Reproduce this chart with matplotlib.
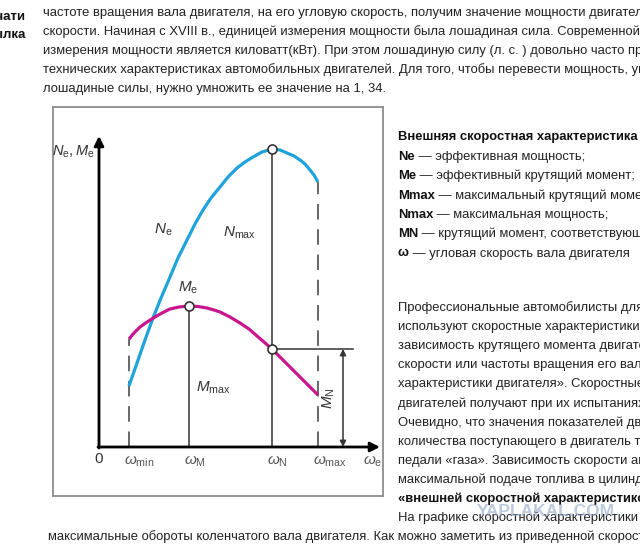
import matplotlib.pyplot as plt

plt.rcParams['font.family'] = ['Liberation Sans', 'DejaVu Sans']
plt.rcParams['mathtext.fontset'] = 'custom'
plt.rcParams['mathtext.rm'] = 'Liberation Sans'
plt.rcParams['mathtext.it'] = 'Liberation Sans:italic'

# --- chart data (x: angular speed, y: power / torque, arbitrary units) ---
w_ne = [30, 38, 46, 54, 62, 71, 79, 88, 96, 104, 112, 121, 129, 138, 146, 154, 163, 173,
        181, 188, 195, 201, 206, 211, 215, 219]
ne = [61, 84, 107, 129, 149, 170, 189, 207, 223, 237, 249, 260, 270, 279, 285, 290, 295, 298,
      297, 294, 291, 287, 283, 277, 272, 265]

w_me = [30, 35, 41, 48, 56, 63, 71, 80, 90, 99, 108, 115, 121, 131, 141, 150, 158, 165, 173,
        180, 188, 196, 204, 211, 219]
me = [108, 114, 120, 125, 130, 134, 138, 140, 141, 140.5, 139, 137, 135, 130, 124, 118, 111, 105, 98,
      91, 83, 75, 67, 60, 52]

w_min, w_M, w_N, w_max = 30, 90, 173, 219
me_max, ne_max, m_n = 141, 298, 98

tick_labels = [r'$\omega_{\rm min}$', r'$\omega_{\rm M}$', r'$\omega_{\rm N}$', r'$\omega_{\rm max}$']

# --- page text around the figure ---
top_lines = [
    'частоте вращения вала двигателя, на его угловую скорость, получим значение мощности двигателя при данной',
    'скорости. Начиная с XVIII в., единицей измерения мощности была лошадиная сила. Современной международной',
    'измерения мощности является киловатт(кВт). При этом лошадиную силу (л. с. ) довольно часто приводят в',
    'технических характеристиках автомобильных двигателей. Для того, чтобы перевести мощность, указанную в',
    'лошадиные силы, нужно умножить ее значение на 1, 34.',
]
legend_title = 'Внешняя скоростная характеристика двигателя:'
legend_keys = ['Ne', 'Me', 'Mmax', 'Nmax', 'MN', 'ω']
legend_vals = [
    ' — эффективная мощность;',
    ' — эффективный крутящий момент;',
    ' — максимальный крутящий момент;',
    ' — максимальная мощность;',
    ' — крутящий момент, соответствующий максимальной мощности;',
    ' — угловая скорость вала двигателя',
]
side_lines = [
    'Профессиональные автомобилисты для оценки двигателя',
    'используют скоростные характеристики, представляющие',
    'зависимость крутящего момента двигателя от угловой',
    'скорости или частоты вращения его вала, «скоростные',
    'характеристики двигателя». Скоростные характеристики',
    'двигателей получают при их испытаниях на стендах.',
    'Очевидно, что значения показателей двигателя зависят от',
    'количества поступающего в двигатель топлива, т. е. от',
    'педали «газа». Зависимость скорости автомобиля при',
    'максимальной подаче топлива в цилиндры называют',
]
side_bold = '«внешней скоростной характеристикой»'
side_tail = 'На графике скоростной характеристики отмечены'
bottom_line = 'максимальные обороты коленчатого вала двигателя. Как можно заметить из приведенной скоростной'

W, H = 640, 544
fig = plt.figure(figsize=(6.4, 5.44), dpi=100)
bg = fig.add_axes([0, 0, 1, 1])
bg.set_xlim(0, W)
bg.set_ylim(H, 0)
bg.axis('off')

txt = '#222222'
fs = 9.4

# left sidebar fragments
bg.text(25, 17, 'Печати', ha='right', va='center', fontsize=9.5, fontweight='bold', color='#111')
bg.text(26, 35, 'Ссылка', ha='right', va='center', fontsize=9.5, fontweight='bold', color='#111')

for i, line in enumerate(top_lines):
    bg.text(43, 13 + 19 * i, line, ha='left', va='center', fontsize=fs, color=txt)

bg.text(398, 137, legend_title, ha='left', va='center', fontsize=fs, fontweight='bold', color='#111')
for i, (k, v) in enumerate(zip(legend_keys, legend_vals)):
    t = bg.text(398, 157 + 19.3 * i, k, ha='left', va='center', fontsize=fs, fontweight='bold', color='#111')
    bg.annotate(v, xy=(1, 0), xycoords=t, ha='left', va='bottom', fontsize=fs, color=txt)

for i, line in enumerate(side_lines):
    bg.text(398, 308 + 19.1 * i, line, ha='left', va='center', fontsize=fs, color=txt)
bg.text(398, 308 + 19.1 * 10, side_bold, ha='left', va='center', fontsize=fs, fontweight='bold', color='#111')
bg.text(398, 308 + 19.1 * 11, side_tail, ha='left', va='center', fontsize=fs, color=txt)
bg.text(48, 537, bottom_line, ha='left', va='center', fontsize=fs, color=txt)

bg.text(546, 512, 'YAPLAKAL.COM', ha='center', va='center', fontsize=12.5, fontweight='bold',
        color='#8ea6c6', alpha=0.6)

# --- the chart itself ---
ax = fig.add_axes([53 / W, 1 - 496 / H, (383 - 53) / W, (496 - 107) / H])
ax.set_xlim(-46, 284)
ax.set_ylim(-49, 340)
ax.set_xticks([])
ax.set_yticks([])
for s in ax.spines.values():
    s.set_color('#8c8c8c')
    s.set_linewidth(1.3)

# axes with arrows
ax.annotate('', xy=(0, 311), xytext=(0, -1), arrowprops=dict(arrowstyle='-|>', lw=2, color='black',
            mutation_scale=14, shrinkA=0, shrinkB=0))
ax.annotate('', xy=(281, 0), xytext=(-1, 0), arrowprops=dict(arrowstyle='-|>', lw=2, color='black',
            mutation_scale=14, shrinkA=0, shrinkB=0))

# guide lines
ax.plot([w_M, w_M], [0, me_max], color='#333333', lw=1.1)
ax.plot([w_N, w_N], [0, ne_max], color='#333333', lw=1.1)
ax.plot([w_min, w_min], [0, me[0]], color='#666666', lw=1.4, dashes=(8, 5))
ax.plot([w_max, w_max], [0, ne[-1]], color='#666666', lw=1.4, dashes=(8, 5))

# M_N dimension
ax.plot([w_N, 254], [m_n, m_n], color='#333333', lw=1.1)
ax.annotate('', xy=(244, 0), xytext=(244, m_n), arrowprops=dict(arrowstyle='<|-|>', lw=1.1, color='#333333',
            mutation_scale=9, shrinkA=0, shrinkB=0))

# curves
ax.plot(w_ne, ne, color='#1ea3da', lw=2.3, solid_capstyle='butt', solid_joinstyle='round')
ax.plot(w_me, me, color='#c9168f', lw=2.3, solid_capstyle='butt', solid_joinstyle='round')
ax.plot([w_M, w_N, w_N], [me_max, ne_max, m_n], 'o', ms=6.5, mfc='white', mec='#333333', mew=1.2)

lab = '#333333'
ax.text(-4, 295, r'$N_{\rm e}, M_{\rm e}$', ha='right', va='center', fontsize=10.5, color=lab)
ax.text(64, 217, r'$N_{\rm e}$', ha='center', va='center', fontsize=11, color=lab)
ax.text(141, 214, r'$N_{\rm max}$', ha='center', va='center', fontsize=11, color=lab)
ax.text(89, 159, r'$M_{\rm e}$', ha='center', va='center', fontsize=11, color=lab)
ax.text(114, 59, r'$M_{\rm max}$', ha='center', va='center', fontsize=11, color=lab)
ax.text(230, 49, r'$M_{\rm N}$', ha='center', va='center', fontsize=11, color=lab, rotation=90)
ax.text(0, -12, '0', ha='center', va='center', fontsize=11, color=lab)
for w, s in zip([w_min, w_M, w_N, w_max], tick_labels):
    ax.text(w - 5, -15, s, ha='left', va='center', fontsize=11, color='#555555')
ax.text(264, -15, r'$\omega_{\rm e}$', ha='left', va='center', fontsize=11, color='#555555')

fig.savefig('out.png', dpi=100)
